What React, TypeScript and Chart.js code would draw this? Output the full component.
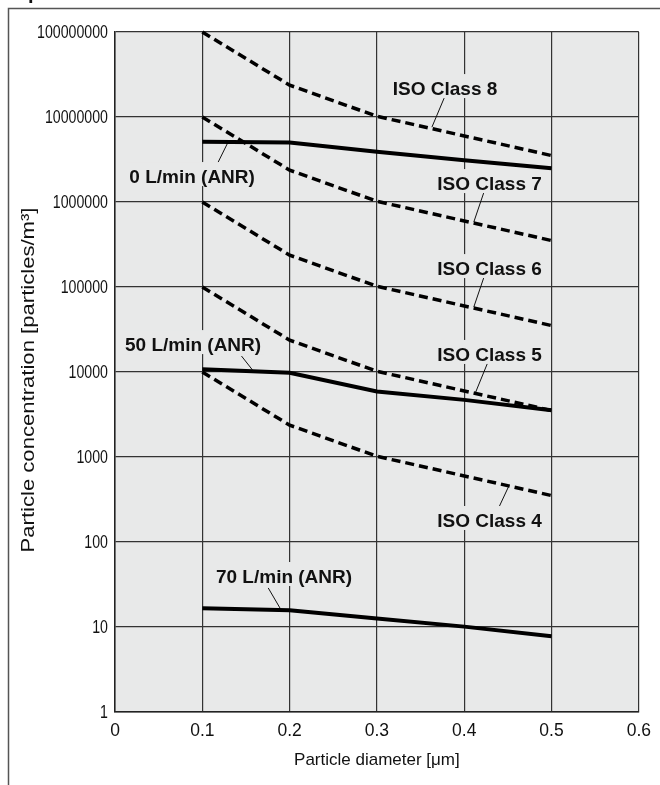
import React, { useEffect, useRef } from 'react';
import { Chart, registerables } from 'chart.js';

Chart.register(...registerables);

// ---- data ----
const xTickValues = [0, 0.1, 0.2, 0.3, 0.4, 0.5, 0.6];
const xTickLabels = ['0', '0.1', '0.2', '0.3', '0.4', '0.5', '0.6'];
const yTickValues = [1, 10, 100, 1000, 10000, 100000, 1000000, 10000000, 100000000];
const yTickLabels = ['1', '10', '100', '1000', '10000', '100000', '1000000', '10000000', '100000000'];

const isoDiameters = [0.1, 0.2, 0.3, 0.5];
const isoClass8 = [100000000, 23700000, 10200000, 3520000];
const isoClass7 = [10000000, 2370000, 1020000, 352000];
const isoClass6 = [1000000, 237000, 102000, 35200];
const isoClass5 = [100000, 23700, 10200, 3520];
const isoClass4 = [10000, 2370, 1020, 352];

const flowDiameters = [0.1, 0.2, 0.3, 0.4, 0.5];
const flow0 = [5100000, 5000000, 3900000, 3100000, 2500000];
const flow50 = [10800, 9800, 5900, 4700, 3550];
const flow70 = [16.6, 15.7, 12.6, 10.1, 7.8];

const xTitle = 'Particle diameter [\u03bcm]';
const yTitle = 'Particle concentration [particles/m\u00b3]';

// label positions (data units): text centre, leader start, leader end
const labelTexts = ['ISO Class 8', 'ISO Class 7', 'ISO Class 6', 'ISO Class 5', 'ISO Class 4', '0 L/min (ANR)', '50 L/min (ANR)', '70 L/min (ANR)'];
const labelX = [0.378, 0.429, 0.429, 0.429, 0.429, 0.0883, 0.0894, 0.1936];
const labelY = [2.19e7, 1.67e6, 1.67e5, 1.63e4, 181.5, 2.02e6, 2.13e4, 39.8];
const leadX1 = [0.377, 0.4223, 0.4223, 0.4268, 0.4404, 0.1177, 0.1449, 0.1755];
const leadY1 = [1.67e7, 1.28e6, 1.28e5, 1.28e4, 265, 2.88e6, 1.54e4, 28.8];
const leadX2 = [0.363, 0.411, 0.411, 0.4132, 0.4506, 0.129, 0.1574, 0.189];
const leadY2 = [7.6e6, 5.82e5, 5.82e4, 5.82e3, 444, 4.94e6, 1.06e4, 16.7];

const PLOT_BG = '#e8e9e9';
const FONT = "'Liberation Sans', Arial, Helvetica, sans-serif";

const pts = (xs: number[], ys: number[]) => xs.map((x, i) => ({ x, y: ys[i] }));

const decorPlugin = {
  id: 'decor',
  beforeDraw(chart: any) {
    const { ctx, chartArea } = chart;
    ctx.save();
    ctx.fillStyle = '#ffffff';
    ctx.fillRect(0, 0, chart.width, chart.height);
    ctx.fillStyle = PLOT_BG;
    ctx.fillRect(chartArea.left, chartArea.top, chartArea.right - chartArea.left, chartArea.bottom - chartArea.top);
    // outer frame
    ctx.strokeStyle = '#555';
    ctx.lineWidth = 1.5;
    ctx.beginPath();
    ctx.moveTo(8.5, chart.height);
    ctx.lineTo(8.5, 8.5);
    ctx.lineTo(chart.width, 8.5);
    ctx.stroke();
    ctx.fillStyle = '#111';
    ctx.font = 'bold 20px ' + FONT;
    ctx.textBaseline = 'alphabetic';
    ctx.fillText('p', 28, -1);
    ctx.restore();
  },
  beforeDatasetsDraw(chart: any) {
    const { ctx } = chart;
    const xs = chart.scales.x;
    const ys = chart.scales.y;
    ctx.save();
    ctx.font = 'bold 19px ' + FONT;
    for (let i = 0; i < labelTexts.length; i++) {
      const x1 = xs.getPixelForValue(leadX1[i]);
      const y1 = ys.getPixelForValue(leadY1[i]);
      const x2 = xs.getPixelForValue(leadX2[i]);
      const y2 = ys.getPixelForValue(leadY2[i]);
      ctx.strokeStyle = '#111';
      ctx.lineWidth = 1;
      ctx.beginPath();
      ctx.moveTo(x1, y1);
      ctx.lineTo(x2, y2);
      ctx.stroke();
      const px = xs.getPixelForValue(labelX[i]);
      const py = ys.getPixelForValue(labelY[i]);
      const w = ctx.measureText(labelTexts[i]).width;
      ctx.fillStyle = PLOT_BG;
      ctx.fillRect(px - w / 2 - 3, py - 14, w + 6, 24);
      ctx.fillStyle = '#111';
      ctx.textAlign = 'center';
      ctx.textBaseline = 'alphabetic';
      ctx.fillText(labelTexts[i], px, py + 7);
    }
    ctx.restore();
  },
  afterDraw(chart: any) {
    const { ctx, chartArea } = chart;
    const ys = chart.scales.y;
    // condensed y tick labels
    ctx.save();
    ctx.font = '17.5px ' + FONT;
    ctx.fillStyle = '#111';
    ctx.textAlign = 'right';
    ctx.textBaseline = 'middle';
    for (let i = 0; i < yTickValues.length; i++) {
      const py = ys.getPixelForValue(yTickValues[i]);
      ctx.save();
      ctx.translate(chartArea.left - 7, py + 1);
      ctx.scale(0.81, 1);
      ctx.fillText(yTickLabels[i], 0, 0);
      ctx.restore();
    }
    ctx.restore();
    // y title
    ctx.save();
    ctx.font = '19px ' + FONT;
    const w = ctx.measureText(yTitle).width;
    ctx.translate(33.5, 380);
    ctx.rotate(-Math.PI / 2);
    ctx.scale(345 / w, 1);
    ctx.fillStyle = '#111';
    ctx.textAlign = 'center';
    ctx.textBaseline = 'alphabetic';
    ctx.fillText(yTitle, 0, 0);
    ctx.restore();
  },
};

export default function App() {
  const ref = useRef<HTMLCanvasElement | null>(null);
  useEffect(() => {
    if (!ref.current) return;
    const isoStyle = { borderColor: '#000', borderWidth: 3.5, borderDash: [9, 5], pointRadius: 0, tension: 0, fill: false, clip: false as any, borderCapStyle: 'butt' as const };
    const flowStyle = { borderColor: '#000', borderWidth: 4, pointRadius: 0, tension: 0, fill: false, clip: false as any };
    const chart = new Chart(ref.current, {
      type: 'line',
      data: {
        datasets: [
          { label: 'ISO Class 8', data: pts(isoDiameters, isoClass8), ...isoStyle },
          { label: 'ISO Class 7', data: pts(isoDiameters, isoClass7), ...isoStyle },
          { label: 'ISO Class 6', data: pts(isoDiameters, isoClass6), ...isoStyle },
          { label: 'ISO Class 5', data: pts(isoDiameters, isoClass5), ...isoStyle },
          { label: 'ISO Class 4', data: pts(isoDiameters, isoClass4), ...isoStyle },
          { label: '0 L/min (ANR)', data: pts(flowDiameters, flow0), ...flowStyle },
          { label: '50 L/min (ANR)', data: pts(flowDiameters, flow50), ...flowStyle },
          { label: '70 L/min (ANR)', data: pts(flowDiameters, flow70), ...flowStyle },
        ] as any,
      },
      options: {
        responsive: false,
        maintainAspectRatio: false,
        animation: false,
        layout: { padding: { left: 0, top: 32, right: 15, bottom: 0 } },
        plugins: { legend: { display: false }, tooltip: { enabled: false } },
        scales: {
          x: {
            type: 'linear',
            min: 0,
            max: 0.6,
            afterBuildTicks: (s: any) => { s.ticks = xTickValues.map((v) => ({ value: v })); },
            afterFit: (s: any) => { s.height = 73; },
            grid: { color: '#333', lineWidth: 1.2, drawTicks: false },
            border: { color: '#222', width: 1.5 },
            ticks: {
              callback: (_v: any, i: number) => xTickLabels[i],
              font: { family: FONT, size: 17.5 },
              color: '#111',
              padding: 9,
              maxRotation: 0,
            },
            title: {
              display: true,
              text: xTitle,
              font: { family: FONT, size: 17 },
              color: '#111',
              padding: { top: 0, bottom: 14 },
            },
          },
          y: {
            type: 'logarithmic',
            min: 1,
            max: 100000000,
            afterBuildTicks: (s: any) => { s.ticks = yTickValues.map((v) => ({ value: v })); },
            afterFit: (s: any) => { s.width = 115; },
            grid: { color: '#333', lineWidth: 1.2, drawTicks: false },
            border: { color: '#222', width: 1.5 },
            ticks: {
              display: false,
              callback: (_v: any, i: number) => yTickLabels[i],
            },
          },
        },
      },
      plugins: [decorPlugin],
    } as any);
    return () => chart.destroy();
  }, []);
  return (
    <div style={{ position: 'fixed', left: 0, top: 0, width: 660, height: 785, background: '#fff' }}>
      <canvas ref={ref} width={660} height={785} style={{ display: 'block', width: 660, height: 785 }} />
    </div>
  );
}
